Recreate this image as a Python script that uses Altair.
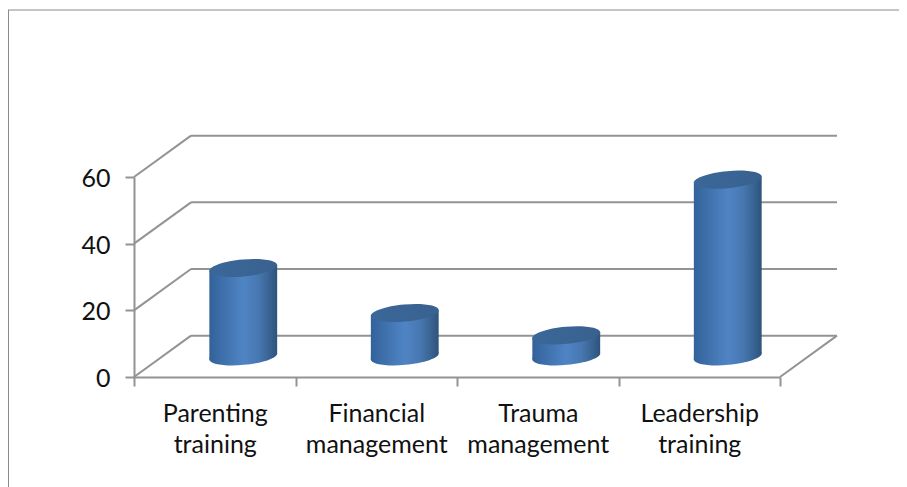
import altair as alt
import pandas as pd

# Chart values
CATEGORIES = ["Parenting\ntraining", "Financial\nmanagement", "Trauma\nmanagement", "Leadership\ntraining"]
VALUES = [26.5, 13.0, 6.3, 53.0]
Y_TICKS = [0, 20, 40, 60]
X_MAX = 4
Y_MAX = 60

# Pseudo-3D geometry in data units
DEPTH_X = 0.353
DEPTH_Y = 12.4
HALF_W = 0.21
TILT = 0.9

GREY = "#939393"
ELLIPSE = "M-1,0.09 A1,0.25,-5.2,1,1,1,-0.09 A1,0.25,-5.2,1,1,-1,0.09 Z"

x_scale = alt.Scale(domain=[0, X_MAX], nice=False, zero=False)
y_scale = alt.Scale(domain=[0, Y_MAX], nice=False, zero=False)
y_axis = alt.Axis(
    values=Y_TICKS, title=None, grid=False, domainColor=GREY, domainWidth=2,
    tickColor=GREY, tickWidth=2, tickSize=9, labelFont="Lato", labelFontSize=25,
    labelColor="#111111", labelPadding=15, labelFlush=False, labelOverlap=False,
    labelOffset=1.5)

body_grad = alt.Gradient(
    gradient="linear", x1=0, x2=1, y1=0, y2=0,
    stops=[
        alt.GradientStop(offset=0, color="#33629a"),
        alt.GradientStop(offset=0.5, color="#4f84c4"),
        alt.GradientStop(offset=0.72, color="#4878b2"),
        alt.GradientStop(offset=1, color="#2e547c"),
    ],
)
top_grad = alt.Gradient(
    gradient="linear", x1=0, x2=1, y1=0, y2=0,
    stops=[
        alt.GradientStop(offset=0, color="#3a6899"),
        alt.GradientStop(offset=1, color="#39618f"),
    ],
)

segments = []
for v in Y_TICKS:
    segments.append(dict(x=0, x2=DEPTH_X, y=v, y2=v + DEPTH_Y))
    segments.append(dict(x=DEPTH_X, x2=X_MAX + DEPTH_X, y=v + DEPTH_Y, y2=v + DEPTH_Y))
segments.append(dict(x=X_MAX, x2=X_MAX + DEPTH_X, y=0, y2=DEPTH_Y))
seg_df = pd.DataFrame(segments)

walls = alt.Chart(seg_df).mark_rule(color=GREY, strokeWidth=2, clip=False).encode(
    x=alt.X("x:Q", scale=x_scale, axis=None),
    x2="x2:Q",
    y=alt.Y("y:Q", scale=y_scale, axis=y_axis),
    y2="y2:Q",
)

axis_df = pd.DataFrame({"cat": CATEGORIES})
x_axis = alt.Chart(axis_df).mark_tick(opacity=0).encode(
    x=alt.X("cat:N", sort=None, scale=alt.Scale(paddingInner=0, paddingOuter=0), axis=alt.Axis(
        orient="bottom", title=None, labelAngle=0, tickBand="extent", domainColor=GREY,
        domainWidth=2, tickColor=GREY, tickWidth=2, tickSize=9, labelFont="Lato",
        labelFontSize=25, labelColor="#111111", labelPadding=15, labelLineHeight=31,
        labelBaseline="top", labelExpr="datum.value ? split(datum.value, '\\n') : ''")),
)

body_rows, top_rows, bottom_rows = [], [], []
for i, (c, v) in enumerate(zip(CATEGORIES, VALUES)):
    cx = i + 0.5 + DEPTH_X / 2
    base = DEPTH_Y / 2
    body_rows.append(dict(cat=c, x=cx - HALF_W, y=v + base - TILT, y2=base - TILT))
    body_rows.append(dict(cat=c, x=cx + HALF_W, y=v + base + TILT, y2=base + TILT))
    top_rows.append(dict(cat=c, x=cx, y=v + base))
    bottom_rows.append(dict(cat=c, x=cx, y=base))

bottoms = alt.Chart(pd.DataFrame(bottom_rows)).mark_point(
    shape=ELLIPSE, size=4624, filled=True, fill=body_grad, opacity=1, strokeWidth=0, clip=False
).encode(x=alt.X("x:Q", scale=x_scale, axis=None), y=alt.Y("y:Q", scale=y_scale, axis=y_axis))

bodies = alt.Chart(pd.DataFrame(body_rows)).mark_area(
    fill=body_grad, interpolate="linear", clip=False
).encode(
    x=alt.X("x:Q", scale=x_scale, axis=None),
    y=alt.Y("y:Q", scale=y_scale, axis=y_axis),
    y2="y2:Q",
    detail="cat:N",
)

tops = alt.Chart(pd.DataFrame(top_rows)).mark_point(
    shape=ELLIPSE, size=4624, filled=True, fill=top_grad, opacity=1, strokeWidth=0, clip=False
).encode(x=alt.X("x:Q", scale=x_scale, axis=None), y=alt.Y("y:Q", scale=y_scale, axis=y_axis))

frame_top = alt.Chart(pd.DataFrame({"k": [0]})).mark_rule(color="#8a8a8a", strokeWidth=1).encode(
    x=alt.value(-126), x2=alt.value(780), y=alt.value(-167), y2=alt.value(-167))
frame_left = alt.Chart(pd.DataFrame({"k": [0]})).mark_rule(color="#8a8a8a", strokeWidth=1).encode(
    x=alt.value(-125.5), x2=alt.value(-125.5), y=alt.value(-167), y2=alt.value(320))

chart = alt.layer(frame_top, frame_left, walls, x_axis, bottoms, bodies, tops).resolve_scale(
    x="independent"
).properties(
    width=646, height=200,
    padding={"left": 126, "top": 169, "right": 119, "bottom": 110},
    autosize=alt.AutoSizeParams(type="none"),
    background="white",
).configure_view(stroke=None)

chart.save("out.html", embed_options={"renderer": "svg", "actions": False})
